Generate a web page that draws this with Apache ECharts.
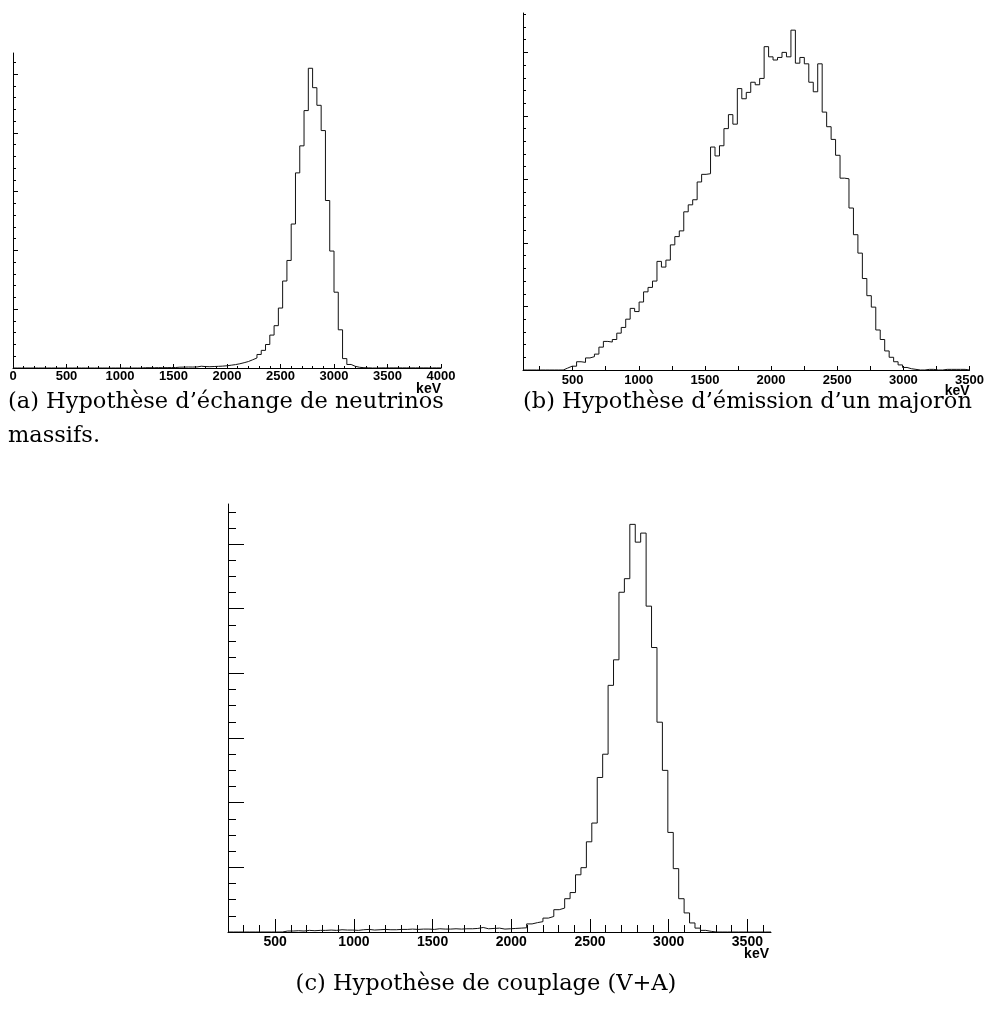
<!DOCTYPE html>
<html>
<head>
<meta charset="utf-8">
<script src="https://cdn.jsdelivr.net/npm/echarts@6/dist/echarts.min.js"></script>
<style>
html, body { margin: 0; padding: 0; background: #fff; }
#chart { width: 987px; height: 1012px; }
</style>
</head>
<body>
<div id="chart"></div>
<script>
// (a) échange de neutrinos massifs : 100 canaux de 0 à 4000 keV
const countsA = [
    0, 0, 0, 0, 0, 0, 0, 0, 0, 0,
    0, 0, 0, 0, 0, 0, 0, 0, 0, 0,
    0, 0, 0, 0, 0, 0, 0, 0, 0, 0,
    5, 5, 4, 6, 5, 6, 7, 8, 14, 15,
    17, 16, 18, 30, 24, 22, 25, 28, 32, 38,
    48, 58, 72, 90, 110, 140, 170, 230, 300, 400,
    560, 720, 1020, 1480, 1830, 2450, 3320, 3780, 4380, 5100,
    4770, 4470, 4040, 2850, 1990, 1290, 650, 160, 60, 28,
    12, 5, 3, 0, 0, 2, 2, 2, 2, 2,
    2, 2, 2, 2, 2, 2, 2, 2, 2, 2
];
// (b) émission d'un majoron : 100 canaux de 125 à 3500 keV
const countsB = [
    0, 0, 0, 0, 0, 0, 0, 0, 0, 3,
    6, 6, 13, 12, 19, 21, 25, 36, 45, 44,
    48, 58, 67, 80, 97, 92, 107, 123, 130, 140,
    171, 162, 173, 197, 210, 219, 249, 260, 268, 296,
    308, 309, 351, 337, 353, 380, 402, 387, 443, 427,
    437, 453, 449, 459, 509, 493, 488, 492, 500, 493,
    535, 483, 492, 482, 453, 438, 482, 406, 383, 363,
    338, 302, 301, 255, 213, 184, 144, 117, 99, 63,
    48, 30, 20, 13, 8, 4, 2, 1, 0, 0,
    1, 1, 0, 0, 1, 1, 1, 1, 1, 0
];
// (c) couplage V+A : 100 canaux de 200 à 3650 keV
const countsC = [
    0, 0, 0, 0, 0, 0, 0, 0, 0, 0,
    3, 3, 4, 3, 5, 4, 5, 5, 6, 5,
    7, 6, 6, 5, 7, 8, 6, 7, 8, 7,
    7, 8, 8, 9, 8, 9, 9, 8, 10, 9,
    9, 10, 9, 10, 10, 11, 14, 10, 11, 12,
    9, 10, 11, 12, 13, 25, 29, 32, 43, 48,
    69, 74, 103, 122, 177, 199, 279, 337, 478, 550,
    763, 842, 1051, 1093, 1261, 1206, 1234, 1008, 880, 649,
    500, 308, 196, 103, 59, 28, 12, 5, 2, 0,
    0, 0, 0, 0, 0, 0, 0, 0, 0, 0
];

const rangeA = [0, 4000];
const rangeB = [125, 3500];
const rangeC = [200, 3650];

const labelsA = [0, 500, 1000, 1500, 2000, 2500, 3000, 3500, 4000];
const labelsB = [500, 1000, 1500, 2000, 2500, 3000, 3500];
const labelsC = [500, 1000, 1500, 2000, 2500, 3000, 3500];

const captions = [
    '(a) Hypothèse d’échange de neutrinos\nmassifs.',
    '(b) Hypothèse d’émission d’un majoron',
    '(c) Hypothèse de couplage (V+A)'
];

const sansFont = 'Liberation Sans';
const serifFont = 'DejaVu Serif';

// multiples de step entre lo et hi, sans ceux de skip
function multiples(step, lo, hi, skip) {
    const out = [];
    for (let v = Math.ceil(lo / step) * step; v <= hi + 1e-9; v += step) {
        if (skip && Math.abs(v / skip - Math.round(v / skip)) < 1e-9) continue;
        out.push(v);
    }
    return out;
}

// contour en escalier d'un histogramme
function histPoints(counts, range) {
    const w = (range[1] - range[0]) / counts.length;
    const pts = counts.map((c, i) => [range[0] + i * w, c]);
    pts.push([range[1], counts[counts.length - 1]]);
    pts.push([range[1], 0]);
    return pts;
}

function xMain(gridIndex, range, labels, ticks, o) {
    return {
        type: 'value', gridIndex, min: range[0], max: range[1], position: 'bottom',
        axisLine: { show: true, onZero: false, lineStyle: { color: '#000', width: 1 } },
        axisTick: { show: true, inside: true, length: o.tickLen, customValues: ticks, lineStyle: { color: '#000' } },
        axisLabel: {
            show: true, customValues: labels, margin: o.margin, formatter: v => String(v),
            fontFamily: sansFont, fontWeight: 'bold', fontSize: o.fontSize, color: '#000',
            showMinLabel: true, showMaxLabel: true
        },
        splitLine: { show: false },
        name: 'keV', nameLocation: 'end', nameGap: o.nameGap, nameMoveOverlap: false,
        nameTextStyle: {
            fontFamily: sansFont, fontWeight: 'bold', fontSize: o.nameSize, color: '#000',
            align: 'right', verticalAlign: 'top', padding: [o.namePad, 0, 0, 0]
        }
    };
}

function xMinor(gridIndex, range, ticks, len) {
    return {
        type: 'value', gridIndex, min: range[0], max: range[1], position: 'bottom',
        axisLine: { show: false },
        axisTick: { show: true, inside: true, length: len, customValues: ticks, lineStyle: { color: '#000' } },
        axisLabel: { show: false },
        splitLine: { show: false }
    };
}

function yAxisTicks(gridIndex, max, ticks, len, line) {
    return {
        type: 'value', gridIndex, min: 0, max: max, position: 'left',
        axisLine: { show: line, onZero: false, lineStyle: { color: '#000', width: 1 } },
        axisTick: { show: true, inside: true, length: len, customValues: ticks, lineStyle: { color: '#000' } },
        axisLabel: { show: false },
        splitLine: { show: false }
    };
}

function histSeries(counts, range, xi, yi) {
    return {
        type: 'line', step: 'end', xAxisIndex: xi, yAxisIndex: yi,
        data: histPoints(counts, range),
        showSymbol: false, symbol: 'none', silent: true,
        lineStyle: { color: '#111', width: 1 }
    };
}

const maxA = 5360, maxB = 562, maxC = 1324;
const captionStyle = { fontFamily: serifFont, fontWeight: 'normal', fontSize: 22.5, lineHeight: 34, color: '#000' };

const option = {
    animation: false,
    backgroundColor: '#fff',
    title: [
        { text: captions[0], left: 8, top: 385, padding: 0, textStyle: captionStyle },
        { text: captions[1], left: 523, top: 385, padding: 0, textStyle: captionStyle },
        { text: captions[2], left: 486, top: 967, padding: 0, textAlign: 'center', textStyle: captionStyle }
    ],
    grid: [
        { left: 13, top: 53, width: 428, height: 315 },
        { left: 523, top: 13, width: 451, height: 357 },
        { left: 228, top: 504, width: 543, height: 428 }
    ],
    xAxis: [
        xMain(0, rangeA, labelsA, labelsA, { tickLen: 4, margin: 2, fontSize: 13, nameGap: 0, namePad: 14, nameSize: 14 }),
        xMinor(0, rangeA, multiples(100, rangeA[0], rangeA[1], 500), 2),
        xMain(1, rangeB, labelsB, multiples(250, rangeB[0], rangeB[1]), { tickLen: 4, margin: 4, fontSize: 13, nameGap: 0, namePad: 14, nameSize: 14 }),
        xMain(2, rangeC, labelsC, labelsC, { tickLen: 13, margin: 3, fontSize: 14, nameGap: -2, namePad: 15, nameSize: 14 }),
        xMinor(2, rangeC, multiples(100, 300, 3600, 500), 7)
    ],
    yAxis: [
        yAxisTicks(0, maxA, multiples(1000, 0, maxA), 5, true),
        yAxisTicks(0, maxA, multiples(200, 0, maxA, 1000), 3, false),
        yAxisTicks(1, maxB, multiples(100, 0, maxB), 5, true),
        yAxisTicks(1, maxB, multiples(20, 0, maxB, 100), 3, false),
        yAxisTicks(2, maxC, multiples(200, 0, maxC), 16, true),
        yAxisTicks(2, maxC, multiples(50, 0, maxC, 200), 8, false)
    ],
    series: [
        histSeries(countsA, rangeA, 0, 0),
        histSeries(countsB, rangeB, 2, 2),
        histSeries(countsC, rangeC, 3, 4)
    ]
};

const chart = echarts.init(document.getElementById('chart'), null, { renderer: 'canvas' });
chart.setOption(option);
window.addEventListener('resize', () => chart.resize());
</script>
</body>
</html>
